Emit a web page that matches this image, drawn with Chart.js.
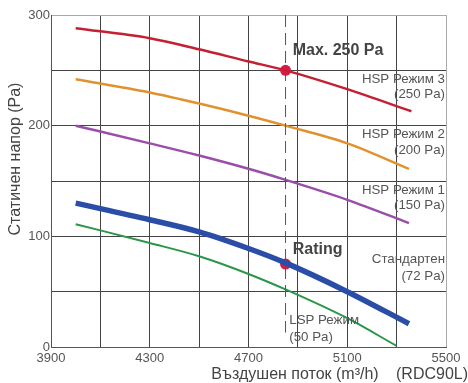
<!DOCTYPE html>
<html>
<head>
    <meta charset="UTF-8">
    <title>RDC90L</title>
    <script src="https://cdn.jsdelivr.net/npm/chart.js"></script>
    <style>
        html, body { margin: 0; padding: 0; background: #fff; }
        #wrap { width: 468px; height: 383px; }
    </style>
</head>
<body>
    <div id="wrap"><canvas id="chart" width="468" height="383"></canvas></div>

    <script>
        // airflow (m3/h) for each curve
        var flowHigh = [4000, 4300, 4500, 4700, 4850, 5100, 5360];
        var flowStd = [4000, 4300, 4500, 4700, 4850, 5100, 5350];
        var flowLow = [4000, 4300, 4500, 4700, 4850, 5100, 5300];

        // static pressure (Pa)
        var hsp3 = [288, 279, 269, 258, 250, 233, 213];
        var hsp2 = [242, 230, 220, 209, 200, 184, 161];
        var hsp1 = [200, 184, 173, 161, 151, 133, 112];
        var standard = [130, 115, 104, 89, 76, 50, 21];
        var lsp = [111, 94, 82, 66, 52, 26, 1];

        // operating points
        var pointFlow = [4850, 4850];
        var pointPressure = [250, 75];
        var dashedFlow = [4850, 4850];
        var dashedPressure = [300, 13];

        var xTicks = [3900, 4300, 4700, 5100, 5500];
        var yTicks = [0, 100, 200, 300];

        function pairs(xs, ys) {
            return xs.map(function(x, i) { return { x: x, y: ys[i] }; });
        }

        var FONT = '"Liberation Sans", Arial, sans-serif';

        // text drawn on top of the chart, anchored in data units
        var notes = [
            { text: 'Max. 250 Pa', x: 4879, y: 268, align: 'left', bold: true },
            { text: 'Rating', x: 4879, y: 88, align: 'left', bold: true },
            { text: 'HSP Режим 3', x: 5500, y: 242, align: 'right' },
            { text: '(250 Pa)', x: 5500, y: 228, align: 'right' },
            { text: 'HSP Режим 2', x: 5500, y: 192, align: 'right' },
            { text: '(200 Pa)', x: 5500, y: 178, align: 'right' },
            { text: 'HSP Режим 1', x: 5500, y: 142, align: 'right' },
            { text: '(150 Pa)', x: 5500, y: 128, align: 'right' },
            { text: 'Стандартен', x: 5500, y: 79, align: 'right' },
            { text: '(72 Pa)', x: 5500, y: 64, align: 'right' },
            { text: 'LSP Режим', x: 4865, y: 24, align: 'left' },
            { text: '(50 Pa)', x: 4865, y: 9, align: 'left' }
        ];

        var textPlugin = {
            id: 'chartText',
            afterDatasetsDraw: function(chart) {
                var ctx = chart.ctx;
                var xs = chart.scales.x, ys = chart.scales.y;
                ctx.save();
                ctx.textBaseline = 'middle';
                notes.forEach(function(n) {
                    ctx.font = (n.bold ? 'bold 16px ' : '13.3px ') + FONT;
                    ctx.fillStyle = n.bold ? '#444' : '#555';
                    ctx.textAlign = n.align;
                    var px = xs.getPixelForValue(n.x) + (n.align === 'right' ? -1 : 0);
                    ctx.fillText(n.text, px, ys.getPixelForValue(n.y));
                });

                // axis titles
                ctx.fillStyle = '#444';
                ctx.font = '16px ' + FONT;
                ctx.textAlign = 'center';
                ctx.fillText('Въздушен поток (m³/h)', 295, 375);
                ctx.fillText('(RDC90L)', 432, 375);
                ctx.translate(16, 159);
                ctx.rotate(-Math.PI / 2);
                ctx.fillText('Статичен напор (Pa)', 0, 0);
                ctx.restore();
            }
        };

        function curve(label, xs, ys, color, width) {
            return {
                label: label,
                data: pairs(xs, ys),
                borderColor: color,
                borderWidth: width,
                pointRadius: 0,
                fill: false,
                cubicInterpolationMode: 'monotone',
                borderCapStyle: 'butt'
            };
        }

        var ctx = document.getElementById('chart').getContext('2d');
        var chart = new Chart(ctx, {
            type: 'line',
            data: {
                datasets: [
                    {
                        label: 'dashed',
                        data: pairs(dashedFlow, dashedPressure),
                        borderColor: '#555',
                        borderWidth: 1,
                        borderDash: [12, 6],
                        pointRadius: 0,
                        fill: false
                    },
                    curve('HSP 3', flowHigh, hsp3, '#c42032', 2.5),
                    curve('HSP 2', flowStd, hsp2, '#e0922e', 2.5),
                    curve('HSP 1', flowStd, hsp1, '#9a4eaa', 2.5),
                    curve('LSP', flowLow, lsp, '#2a9648', 2),
                    curve('Standard', flowStd, standard, '#2a4ea8', 5.5),
                    {
                        label: 'points',
                        data: pairs(pointFlow, pointPressure),
                        showLine: false,
                        pointRadius: 5.5,
                        pointBackgroundColor: '#d41c48',
                        pointBorderColor: '#d41c48',
                        pointBorderWidth: 0
                    }
                ]
            },
            options: {
                responsive: false,
                animation: false,
                layout: { padding: { top: 15, right: 22, left: 0, bottom: 0 } },
                plugins: {
                    legend: { display: false },
                    tooltip: { enabled: false }
                },
                scales: {
                    x: {
                        type: 'linear',
                        min: 3900,
                        max: 5500,
                        afterFit: function(scale) { scale.height = 36; },
                        border: { color: '#555', width: 1 },
                        grid: {
                            drawTicks: false,
                            color: function(c) { return c.tick && c.tick.value === 5500 ? '#aaa' : '#444'; }
                        },
                        ticks: {
                            stepSize: 200,
                            padding: 4,
                            maxRotation: 0,
                            autoSkip: false,
                            color: '#555',
                            font: { family: FONT, size: 13 },
                            callback: function(v) { return xTicks.indexOf(v) >= 0 ? v : ''; }
                        }
                    },
                    y: {
                        min: 0,
                        max: 300,
                        afterFit: function(scale) { scale.width = 51; },
                        border: { color: '#555', width: 1 },
                        grid: {
                            drawTicks: false,
                            color: function(c) { return c.tick && c.tick.value === 300 ? '#aaa' : '#444'; }
                        },
                        ticks: {
                            stepSize: 50,
                            padding: 1,
                            color: '#555',
                            font: { family: FONT, size: 13 },
                            callback: function(v) { return yTicks.indexOf(v) >= 0 ? v : ''; }
                        }
                    }
                }
            },
            plugins: [textPlugin]
        });
    </script>
</body>
</html>
